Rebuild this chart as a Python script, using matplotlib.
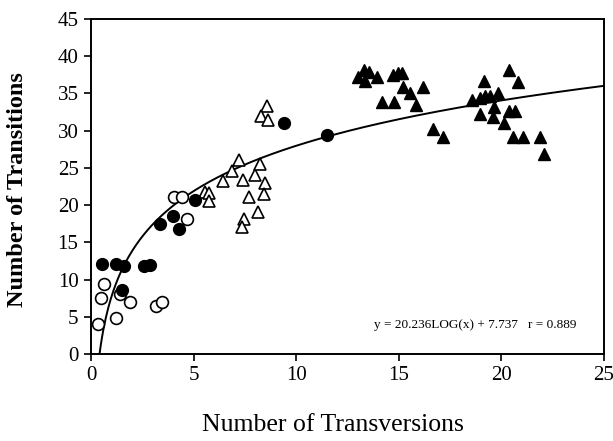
import numpy as np
import matplotlib
matplotlib.use("Agg")
import matplotlib.pyplot as plt

plt.rcParams['font.family'] = ['Liberation Serif', 'DejaVu Serif']

# filled circles
fc_x = [0.55, 1.2, 1.62, 2.6, 2.86, 1.5, 3.36, 4.01, 4.29, 5.05, 9.4, 11.5]
fc_y = [12.05, 12.1, 11.8, 11.8, 12.0, 8.6, 17.4, 18.6, 16.8, 20.7, 31.0, 29.4]

# open circles
oc_x = [0.36, 0.49, 0.65, 1.22, 1.41, 1.9, 3.17, 3.44, 4.03, 4.45, 4.66]
oc_y = [4.03, 7.57, 9.4, 4.8, 8.1, 6.95, 6.5, 6.95, 21.1, 21.1, 18.1]

# open triangles
ot_x = [5.56, 5.77, 5.75, 6.42, 6.86, 7.23, 7.42, 7.99, 8.24, 8.48, 8.42,
        7.71, 8.12, 7.46, 7.36, 8.59, 8.3, 8.61]
ot_y = [21.8, 21.6, 20.5, 23.3, 24.6, 26.0, 23.4, 24.1, 25.5, 23.0, 21.5,
        21.1, 19.1, 18.2, 17.0, 33.3, 32.0, 31.5]

# filled triangles
ft_x = [13.03, 13.32, 13.56, 13.35, 13.95, 14.73, 14.95, 15.16, 15.19, 15.55,
        16.16, 14.17, 14.78, 15.82, 16.65, 17.17, 20.37, 19.17, 20.79, 18.55,
        18.96, 19.2, 19.44, 19.85, 19.64, 18.96, 19.57, 20.39, 20.66, 20.14,
        20.55, 21.04, 21.9, 22.09]
ft_y = [37.2, 38.2, 37.9, 36.7, 37.2, 37.5, 37.7, 37.7, 35.8, 35.0,
        35.8, 33.8, 33.8, 33.5, 30.2, 29.1, 38.2, 36.7, 36.6, 34.1,
        34.4, 34.7, 34.6, 35.0, 33.2, 32.3, 31.9, 32.7, 32.6, 31.0,
        29.2, 29.2, 29.2, 26.9]

# fit
a = 20.236
b = 7.737
r = 0.889

fig = plt.figure(figsize=(6.13, 4.41), dpi=100)
ax = fig.add_axes([0.1485, 0.1973, 0.8368, 0.7596])

xs = np.linspace(10 ** (-b / a), 25, 400)
ax.plot(xs, a * np.log10(xs) + b, color='black', lw=1.4, zorder=2)

ms = 8.5
ax.plot(oc_x, oc_y, 'o', ms=ms, mfc='white', mec='black', mew=1.2, zorder=3)
ax.plot(fc_x, fc_y, 'o', ms=ms, mfc='black', mec='black', zorder=4)
ax.plot(ot_x, ot_y, '^', ms=ms, mfc='white', mec='black', mew=1.2, zorder=3)
ax.plot(ft_x, ft_y, '^', ms=ms, mfc='black', mec='black', zorder=3)

ax.set_xlim(0, 25)
ax.set_ylim(0, 45)
ax.set_xticks(np.arange(0, 26, 5))
ax.set_yticks(np.arange(0, 46, 5))
ax.tick_params(direction='out', length=5, width=1.2, labelsize=15, pad=4)
for s in ax.spines.values():
    s.set_linewidth(1.4)

# axis titles placed by hand
fig.text(333 / 613, 1 - 425 / 441, 'Number of Transversions', fontsize=18.5,
         ha='center', va='center')
fig.text(18 / 613, 1 - 190 / 441, 'Number of Transitions', fontsize=17.5,
         fontweight='bold', rotation=90, ha='center', va='center')

ax.text(13.8, 3.9, 'y = 20.236LOG(x) + 7.737   r = %.3f' % r, fontsize=9.5, va='center')

fig.savefig('out.png', dpi=100)
